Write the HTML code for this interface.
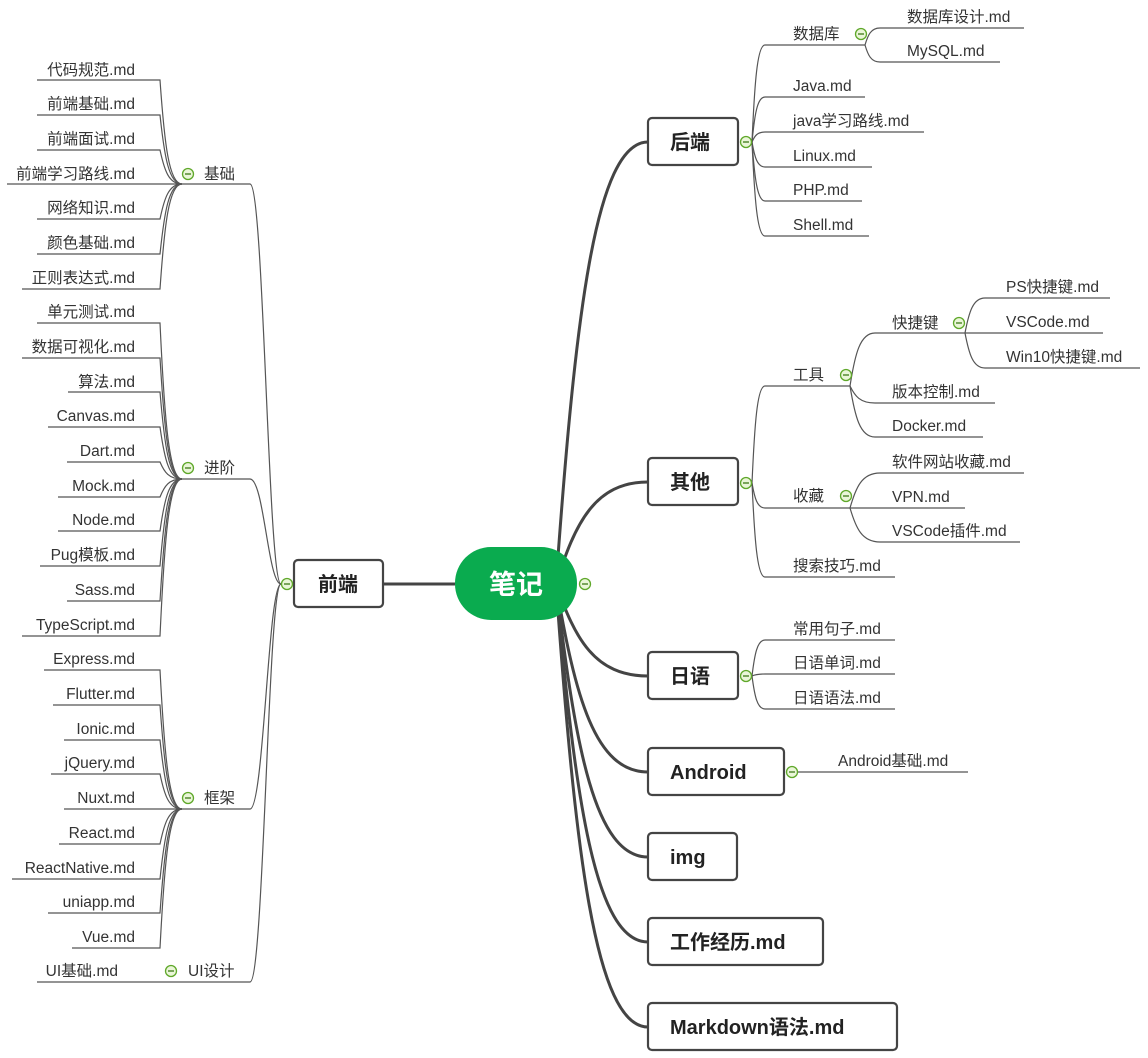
<!DOCTYPE html>
<html><head><meta charset="utf-8"><style>
html,body{margin:0;padding:0;background:#fff;}
svg{display:block;}
text{font-family:"Liberation Sans","Noto Sans CJK SC",sans-serif;}
.l{font-size:15.5px;fill:#333;}
.b{font-size:20px;font-weight:bold;fill:#222;}
</style></head><body>
<svg id="s" width="1148" height="1058" viewBox="0 0 1148 1058" xmlns="http://www.w3.org/2000/svg">
<g id="lines" fill="none" stroke="#555" stroke-width="1.2"></g>
<g id="thick" fill="none" stroke="#444" stroke-width="3"></g>
<rect x="455" y="547" width="122" height="73" rx="36" fill="#0aab4f"/>
<text x="516" y="594" text-anchor="middle" style="font-size:27px;font-weight:bold;fill:#fff">笔记</text>
<g fill="#fff" stroke="#444" stroke-width="2.2">
<rect x="294" y="560" width="89" height="47" rx="4"/>
<rect x="648" y="118" width="90" height="47" rx="4"/>
<rect x="648" y="458" width="90" height="47" rx="4"/>
<rect x="648" y="652" width="90" height="47" rx="4"/>
<rect x="648" y="748" width="136" height="47" rx="4"/>
<rect x="648" y="833" width="89" height="47" rx="4"/>
<rect x="648" y="918" width="175" height="47" rx="4"/>
<rect x="648" y="1003" width="249" height="47" rx="4"/>
</g>
<text class="b" x="338" y="591" text-anchor="middle">前端</text>
<text class="b" x="670" y="149">后端</text>
<text class="b" x="670" y="489">其他</text>
<text class="b" x="670" y="683">日语</text>
<text class="b" x="670" y="779">Android</text>
<text class="b" x="670" y="864">img</text>
<text class="b" x="670" y="949">工作经历.md</text>
<text class="b" x="670" y="1034">Markdown语法.md</text>

<g class="l" text-anchor="end">
<text x="135" y="75">代码规范.md</text>
<text x="135" y="109">前端基础.md</text>
<text x="135" y="144">前端面试.md</text>
<text x="135" y="179">前端学习路线.md</text>
<text x="135" y="213">网络知识.md</text>
<text x="135" y="248">颜色基础.md</text>
<text x="135" y="283">正则表达式.md</text>
<text x="135" y="317">单元测试.md</text>
<text x="135" y="352">数据可视化.md</text>
<text x="135" y="387">算法.md</text>
<text x="135" y="421">Canvas.md</text>
<text x="135" y="456">Dart.md</text>
<text x="135" y="491">Mock.md</text>
<text x="135" y="525">Node.md</text>
<text x="135" y="560">Pug模板.md</text>
<text x="135" y="595">Sass.md</text>
<text x="135" y="630">TypeScript.md</text>
<text x="135" y="664">Express.md</text>
<text x="135" y="699">Flutter.md</text>
<text x="135" y="734">Ionic.md</text>
<text x="135" y="768">jQuery.md</text>
<text x="135" y="803">Nuxt.md</text>
<text x="135" y="838">React.md</text>
<text x="135" y="873">ReactNative.md</text>
<text x="135" y="907">uniapp.md</text>
<text x="135" y="942">Vue.md</text>
<text x="118" y="976">UI基础.md</text>
</g>
<g class="l">
<text x="204" y="179">基础</text>
<text x="204" y="473">进阶</text>
<text x="204" y="803">框架</text>
<text x="188" y="976">UI设计</text>
<text x="793" y="39">数据库</text>
<text x="907" y="22">数据库设计.md</text>
<text x="907" y="56">MySQL.md</text>
<text x="793" y="91">Java.md</text>
<text x="793" y="126">java学习路线.md</text>
<text x="793" y="161">Linux.md</text>
<text x="793" y="195">PHP.md</text>
<text x="793" y="230">Shell.md</text>
<text x="793" y="380">工具</text>
<text x="892" y="328">快捷键</text>
<text x="1006" y="292">PS快捷键.md</text>
<text x="1006" y="327">VSCode.md</text>
<text x="1006" y="362">Win10快捷键.md</text>
<text x="892" y="397">版本控制.md</text>
<text x="892" y="431">Docker.md</text>
<text x="793" y="501">收藏</text>
<text x="892" y="467">软件网站收藏.md</text>
<text x="892" y="502">VPN.md</text>
<text x="892" y="536">VSCode插件.md</text>
<text x="793" y="571">搜索技巧.md</text>
<text x="793" y="634">常用句子.md</text>
<text x="793" y="668">日语单词.md</text>
<text x="793" y="703">日语语法.md</text>
<text x="838" y="766">Android基础.md</text>
</g>
<g id="icons"></g>
</svg>
<script>
var NS="http://www.w3.org/2000/svg";
function P(g,d){var p=document.createElementNS(NS,"path");p.setAttribute("d",d);document.getElementById(g).appendChild(p);}
function cv(x1,y1,x2,y2){var dx=x2-x1;return "M"+x1+","+y1+" C"+(x1+dx*0.2)+","+(y1+(y2-y1)*0.6)+" "+(x1+dx*0.4)+","+y2+" "+x2+","+y2;}
function R(hx,hy,y,s,e){P("lines",cv(hx,hy,s,y)+" L"+e+","+y);}
function L(hx,hy,y,s){P("lines","M"+s+","+y+" L160,"+y+" "+cv(160,y,hx,hy).replace(/^M[^ ]+ /," "));}
function up(hy){return " C264,"+hy+" 268,584 281,584";}
var ls={184:[[80,37],[115,37],[150,37],[184,7],[219,37],[254,37],[289,22]],
479:[[323,37],[358,22],[392,68],[427,48],[462,67],[497,58],[531,58],[566,40],[601,67],[636,22]],
809:[[670,44],[705,53],[740,64],[774,51],[809,64],[844,59],[879,12],[913,48],[948,72]]};
for(var h in ls){var hy=+h;ls[h].forEach(function(a){L(182,hy,a[0],a[1]);});
P("lines","M182,"+hy+" L250,"+hy+up(hy));}
P("lines","M37,982 L250,982"+up(982));
R(752,142,45,765,865);R(865,45,28,880,1024);R(865,45,62,880,1000);
[[97,865],[132,924],[167,872],[201,862],[236,869]].forEach(function(a){R(752,142,a[0],765,a[1]);});
R(752,483,386,765,850);R(850,386,333,875,965);
R(965,333,298,985,1110);R(965,333,333,985,1103);R(965,333,368,985,1140);
R(850,386,403,875,995);R(850,386,437,875,983);
R(752,483,508,765,850);R(850,508,473,880,1024);R(850,508,508,880,965);R(850,508,542,880,1020);
R(752,483,577,765,895);
R(752,676,640,765,895);R(752,676,674,765,895);R(752,676,709,765,895);
P("lines","M798,772 L968,772");
P("thick","M383,584 L455,584");
[142,482,676,772,857,942,1027].forEach(function(y){P("thick","M556,584 C575,"+(584+(y-584)*0.6)+" 595,"+y+" 648,"+y);});
[[585,584],[287,584],[188,174],[188,468],[188,798],[171,971],[746,142],[861,34],[746,483],[846,375],[959,323],[846,496],[746,676],[792,772]].forEach(function(c){
var g=document.getElementById("icons");
var ci=document.createElementNS(NS,"circle");ci.setAttribute("cx",c[0]);ci.setAttribute("cy",c[1]);ci.setAttribute("r",5.5);
ci.setAttribute("fill","#eaf6d8");ci.setAttribute("stroke","#5fa82a");ci.setAttribute("stroke-width","1.3");g.appendChild(ci);
var ln=document.createElementNS(NS,"line");ln.setAttribute("x1",c[0]-3);ln.setAttribute("x2",c[0]+3);ln.setAttribute("y1",c[1]);ln.setAttribute("y2",c[1]);
ln.setAttribute("stroke","#3d7a18");ln.setAttribute("stroke-width","1.3");g.appendChild(ln);});
</script>
</body></html>
